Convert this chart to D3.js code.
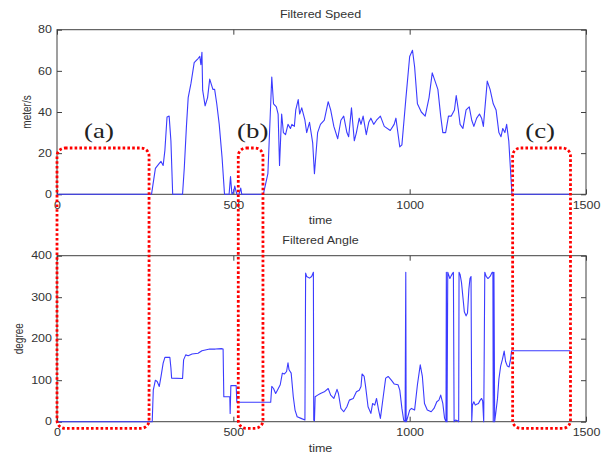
<!DOCTYPE html>
<html><head><meta charset="utf-8">
<script src="https://cdn.jsdelivr.net/npm/d3@7"></script>
<style>body{margin:0;background:#fff}svg{display:block}</style>
</head><body>
<svg id="chart" width="609" height="456"></svg>
<script>
// ---------- data ----------
const xTicks = [0, 500, 1000, 1500];
const speedTicks = [0, 20, 40, 60, 80];
const angleTicks = [0, 100, 200, 300, 400];

const speedTime = [0,268,279,290,295,301,306,312,318,323,328,356,361,367,372,380,389,400,405,408,411,413,420,427,433,442,447,453,460,468,475,488,492,496,501,504,510,516,521,524,585,598,609,614,622,627,631,637,642,648,655,662,666,673,677,684,688,694,703,708,716,725,730,739,747,758,769,776,785,796,805,813,822,827,835,843,849,857,862,868,877,884,890,898,906,917,928,945,956,961,972,978,989,1000,1008,1014,1022,1033,1044,1055,1064,1072,1080,1088,1094,1102,1110,1118,1127,1132,1138,1143,1151,1160,1169,1176,1182,1190,1198,1204,1209,1220,1228,1237,1245,1253,1259,1264,1270,1275,1281,1290,1456];
const speedValues = [0,0,12.6,15,16,14,21.5,37.6,38,26,0,0,13,33,47,54,64,66,67,63,69,50.6,43,47,56,51,51,44,34,18,0,0,8.6,0,1.3,4,0,0,3,0,0,10,57,44,42.5,39,14,39,30,29,34,32,34,33,41,46,39,42,36,30,35,25,10,30,34,36,45,41,33,27,36,38,30,28,42,26,30,37,34,38,29,35,37,34,36,38,33,31,34,37,23,24,46,67,70,62,44,40,38,47,59,55,51,38,30,30,38,38,41,48,41,34,32,41,42.5,36,33,37,39,37,33,55,51,44,41,30,28,32,30,34,26,0,0];

const angleTime = [0,270,273,279,284,290,295,301,306,320,323,325,356,359,365,372,383,400,411,433,449,466,471,473,490,491,493,508,510,606,609,614,620,625,633,639,645,651,655,658,664,670,675,681,692,703,704,705,708,716,722,727,728,730,732,739,747,758,769,776,785,794,798,805,813,822,829,840,849,857,862,865,871,875,882,890,895,901,906,912,917,925,932,939,948,956,967,972,978,983,987,988,989,990,992,1000,1005,1014,1022,1030,1036,1042,1050,1061,1069,1077,1083,1088,1094,1099,1103,1104,1106,1108,1110,1114,1118,1122,1124,1126,1130,1136,1139,1140,1143,1147,1151,1155,1160,1164,1168,1171,1174,1176,1178,1182,1186,1190,1195,1200,1204,1207,1210,1213,1217,1222,1228,1234,1236,1237,1239,1241,1244,1249,1253,1258,1263,1268,1272,1277,1282,1286,1289,1456];
const angleValues = [0,0,76,100,97,85,109,141,155,155,130,105,104,149,161,159,163,165,171,175,175,176,175,60,60,20,87,87,47,47,85,80,68,76,89,117,115,121,142,125,117,60,28,12,8,4,180,358,350,346,350,360,4,2,60,64,68,72,80,64,56,78,68,32,24,36,52,56,72,76,85,115,109,85,36,20,44,40,56,28,8,60,105,109,100,91,89,76,32,4,0,181,360,0,4,28,32,28,89,137,109,44,28,24,32,48,52,64,44,8,0,360,0,360,355,345,352,358,360,0,4,2,0,360,355,335,300,265,255,262,320,345,350,0,40,48,40,42,44,52,56,50,0,360,350,345,350,360,360,0,360,0,20,55,103,134,150,170,145,134,132,150,171,171];

// annotated regions
const regionLabels = ["(a)", "(b)", "(c)"];
const regionStart = [0, 514, 1292];
const regionEnd = [261, 584, 1456];
const regionTop = 22.5;      // in speed units
const regionBottom = -16;    // in angle units
const labelTime = [119, 555, 1370];
const labelSpeed = 27.2;

// ---------- layout ----------
const SX = 1.25; // horizontal stretch of text in the reference
const svg = d3.select("#chart");
const x = d3.scaleLinear().domain([0, 1500]).range([57, 586]);
const ySpeed = d3.scaleLinear().domain([0, 80]).range([194.3, 29.7]);
const yAngle = d3.scaleLinear().domain([0, 400]).range([421.7, 255.7]);
const frameColor = "#404040", textColor = "#333", lineColor = "#3b3bff";
const sans = "'Liberation Sans', Arial, sans-serif";
const fmt = d3.format("d");

function panel(y, yTicks, times, values, title, ylabel, ylabelX) {
  const [yb, yt] = y.range();
  const g = svg.append("g");
  // axes
  const ax = [
    [d3.axisBottom(x).tickValues(xTicks).tickFormat(fmt).tickSizeInner(-5).tickSizeOuter(0).tickPadding(7.4), yb],
    [d3.axisTop(x).tickValues(xTicks).tickSizeInner(-5).tickSizeOuter(0).tickFormat(""), yt]
  ];
  ax.forEach(([a, ty]) => {
    const s = g.append("g").attr("transform", `translate(0,${ty})`).call(a);
    s.select(".domain").remove();
  });
  const left = g.append("g").attr("transform", `translate(${x.range()[0]},0)`)
    .call(d3.axisLeft(y).tickValues(yTicks).tickFormat(fmt).tickSizeInner(-5).tickSizeOuter(0).tickPadding(5));
  left.select(".domain").remove();
  left.selectAll("text").attr("x", -5 / SX);
  const right = g.append("g").attr("transform", `translate(${x.range()[1]},0)`)
    .call(d3.axisRight(y).tickValues(yTicks).tickSizeInner(-5).tickSizeOuter(0).tickFormat(""));
  right.select(".domain").remove();
  g.selectAll(".tick line").attr("stroke", frameColor);
  g.selectAll(".tick text").attr("font-family", sans).attr("font-size", 10)
    .attr("fill", textColor).attr("transform", `scale(${SX},1)`);
  // frame
  g.append("rect").attr("x", x.range()[0]).attr("y", yt)
    .attr("width", x.range()[1] - x.range()[0]).attr("height", yb - yt)
    .attr("fill", "none").attr("stroke", frameColor).attr("stroke-width", 1);
  // data line
  const pts = times.map((t, i) => [t, values[i]]);
  g.append("path").datum(pts)
    .attr("d", d3.line().x(d => x(d[0])).y(d => y(d[1])))
    .attr("fill", "none").attr("stroke", lineColor).attr("stroke-width", 1.1)
    .attr("stroke-linejoin", "round");
  // title
  const cx = (x.range()[0] + x.range()[1]) / 2 - 1;
  g.append("text").attr("transform", `translate(${cx},${yt - 12.2}) scale(${SX},1)`)
    .attr("text-anchor", "middle").attr("font-family", sans).attr("font-size", 10)
    .attr("fill", textColor).text(title);
  // x label
  g.append("text").attr("transform", `translate(${cx},${yb + 30}) scale(${SX},1)`)
    .attr("text-anchor", "middle").attr("font-family", sans).attr("font-size", 10)
    .attr("fill", textColor).text("time");
  // y label
  g.append("text").attr("transform", `translate(${ylabelX},${(yb + yt) / 2}) scale(${SX},1) rotate(-90)`)
    .attr("text-anchor", "middle").attr("font-family", sans).attr("font-size", 10)
    .attr("fill", textColor).text(ylabel);
}

panel(ySpeed, speedTicks, speedTime, speedValues, "Filtered Speed", "meter/s", 30.5);
panel(yAngle, angleTicks, angleTime, angleValues, "Filtered Angle", "degree", 23);

// red dotted regions
const ann = svg.append("g");
regionLabels.forEach((lab, i) => {
  const x0 = x(regionStart[i]), x1 = x(regionEnd[i]);
  const y0 = ySpeed(regionTop), y1 = yAngle(regionBottom);
  ann.append("rect").attr("x", x0).attr("y", y0)
    .attr("width", x1 - x0).attr("height", y1 - y0)
    .attr("rx", 8).attr("ry", 8)
    .attr("fill", "none").attr("stroke", "#ff0000").attr("stroke-width", 2.8)
    .attr("stroke-dasharray", "2.6,2.2");
  ann.append("text")
    .attr("transform", `translate(${x(labelTime[i])},${ySpeed(labelSpeed)}) scale(1.22,1)`)
    .attr("text-anchor", "middle").attr("font-family", "'Liberation Serif', 'Times New Roman', serif")
    .attr("font-size", 22).attr("fill", "#222").text(lab);
});
</script>
</body></html>
